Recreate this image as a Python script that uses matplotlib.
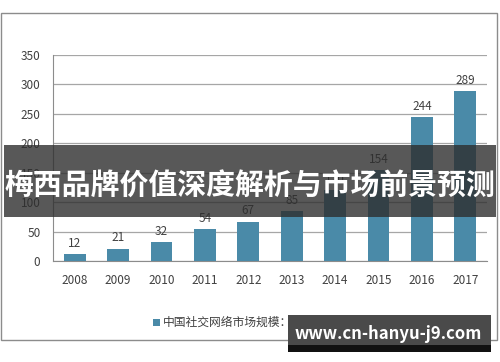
import matplotlib.pyplot as plt
from matplotlib.patches import Rectangle

plt.rcParams['font.family'] = ['Noto Sans CJK SC', 'DejaVu Sans']

# data (2014 label is covered by the banner)
years = ['2008', '2009', '2010', '2011', '2012', '2013', '2014', '2015', '2016', '2017']
values = [12, 21, 32, 54, 67, 85, 120, 154, 244, 289]
legend_label = '中国社交网络市场规模：亿美元'
banner_text = '梅西品牌价值深度解析与市场前景预测'
site_text = 'www.cn-hanyu-j9.com'

W, H = 500, 362
fig = plt.figure(figsize=(W / 100, H / 100), dpi=100)

def fx(px):
    return px / W

def fy(py):
    return 1 - py / H

# outer frame
fig.patches.append(Rectangle((fx(1), fy(340)), fx(496), 327 / H, transform=fig.transFigure,
                             fill=False, edgecolor='#8c8c8c', linewidth=1.0))

ax = fig.add_axes([fx(53), fy(261), 434 / W, 206 / H])
x = list(range(len(years)))
bar_color = '#4a8aa8'
bars = ax.bar(x, values, width=0.5, color=bar_color, zorder=3)
for xi, v in zip(x, values):
    ax.annotate(str(v), (xi, v), xytext=(0, 3), textcoords='offset points',
                ha='center', va='bottom', fontsize=8.5, color='#404040', zorder=4)

ax.set_ylim(0, 350)
ax.set_xlim(-0.5, len(years) - 0.5)
ax.set_yticks(range(0, 351, 50))
ax.set_xticks(x)
ax.set_xticklabels(years)
ax.grid(axis='y', color='#a6a6a6', linewidth=0.9, zorder=0)
for s in ['top', 'right']:
    ax.spines[s].set_visible(False)
for s in ['left', 'bottom']:
    ax.spines[s].set_color('#8c8c8c')
ax.tick_params(axis='both', length=0, labelsize=8.5, labelcolor='#404040')
ax.tick_params(axis='x', pad=9)
ax.tick_params(axis='y', pad=9)

# legend
fig.patches.append(Rectangle((fx(153), fy(326)), 7 / W, 7 / H, transform=fig.transFigure,
                             facecolor=bar_color, edgecolor='none'))
fig.text(fx(163), fy(322), legend_label, fontsize=8.5, color='#404040', va='center', ha='left')

# banner across the middle
fig.patches.append(Rectangle((fx(4), fy(217)), 492 / W, 72 / H, transform=fig.transFigure,
                             facecolor='#2e2e2e', alpha=0.8, edgecolor='none', zorder=5))
fig.text(0.5, fy(186), banner_text, fontsize=20.8, fontweight='bold', color='white',
         ha='center', va='center', zorder=6)

# site label bottom right
fig.patches.append(Rectangle((fx(288), fy(352)), 203 / W, 37 / H, transform=fig.transFigure,
                             facecolor='#4a4a4a', edgecolor='none', zorder=5))
fig.patches.append(Rectangle((fx(288), fy(352)), 203 / W, 7 / H, transform=fig.transFigure,
                             facecolor='#111111', edgecolor='none', zorder=5))
fig.text(fx(388), fy(334), site_text, fontsize=12, fontweight='bold', color='white',
         ha='center', va='center', zorder=6)

fig.savefig('out.png', dpi=100)
